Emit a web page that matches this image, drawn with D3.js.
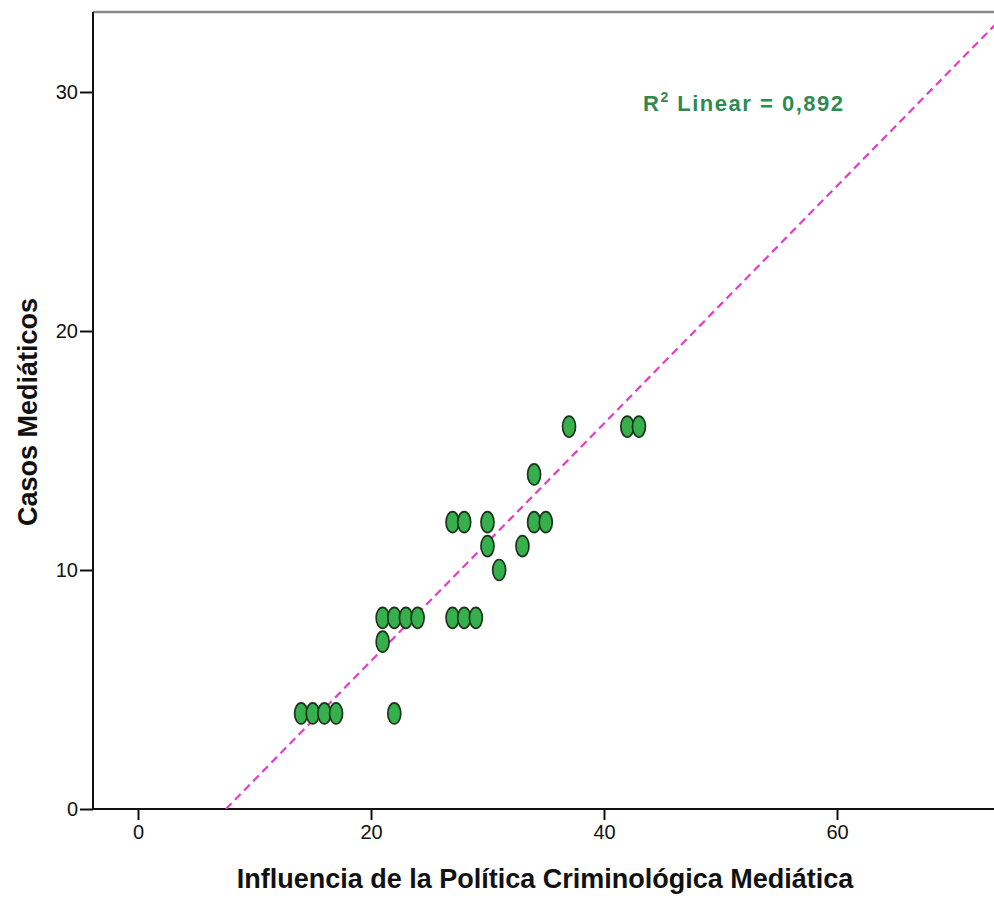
<!DOCTYPE html>
<html>
<head>
<meta charset="utf-8">
<script src="https://cdn.jsdelivr.net/npm/d3@7"></script>
<style>
  body { margin: 0; background: #fff; }
  text { font-family: "Liberation Sans", Arial, sans-serif; }
</style>
</head>
<body>
<div id="chart"></div>
<script>
// data
const xValues = [14, 15, 16, 17, 22, 21, 21, 22, 23, 24, 27, 28, 29, 31, 30, 33, 27, 28, 30, 34, 35, 34, 37, 42, 43];
const yValues = [4, 4, 4, 4, 4, 7, 8, 8, 8, 8, 8, 8, 8, 10, 11, 11, 12, 12, 12, 12, 12, 14, 16, 16, 16];
const xTicks = [0, 20, 40, 60];
const yTicks = [0, 10, 20, 30];
const fitIntercept = -3.75, fitSlope = 0.497;
const r2Label = "0,892";
const xTitle = "Influencia de la Política Criminológica Mediática";
const yTitle = "Casos Mediáticos";

const width = 994, height = 898;
const plotLeft = 93, plotTop = 12, plotBottom = 809;

const svg = d3.select("#chart").append("svg")
  .attr("width", width)
  .attr("height", height);

// x: 0 -> 138px, 20 -> 371px
const x = d3.scaleLinear().domain([0, 20]).range([138, 371]);
const xMax = x.invert(1010);
const y = d3.scaleLinear().domain([0, 10]).range([plotBottom, 570]);

svg.append("defs").append("clipPath").attr("id", "plot-clip")
  .append("rect")
  .attr("x", plotLeft).attr("y", plotTop)
  .attr("width", 1010 - plotLeft).attr("height", plotBottom - plotTop);

// top frame line
svg.append("line")
  .attr("x1", plotLeft).attr("x2", width)
  .attr("y1", plotTop).attr("y2", plotTop)
  .attr("stroke", "#8a8a8a")
  .attr("stroke-width", 2.5);

// axes
const xAxis = svg.append("g")
  .attr("transform", "translate(0," + plotBottom + ")")
  .call(d3.axisBottom(x).tickValues(xTicks).tickSize(11).tickPadding(5).tickFormat(d3.format("d")));
xAxis.select(".domain").remove();
xAxis.append("line")
  .attr("x1", plotLeft).attr("x2", width)
  .attr("stroke", "#111").attr("stroke-width", 2);

const yAxis = svg.append("g")
  .attr("transform", "translate(" + plotLeft + ",0)")
  .call(d3.axisLeft(y).tickValues(yTicks).tickSize(13).tickPadding(2).tickFormat(d3.format("d")));
yAxis.select(".domain").remove();
yAxis.append("line")
  .attr("y1", plotTop).attr("y2", plotBottom)
  .attr("stroke", "#111").attr("stroke-width", 2);

svg.selectAll(".tick line").attr("stroke", "#111").attr("stroke-width", 2);
svg.selectAll(".tick text")
  .attr("fill", "#111")
  .style("font-size", "20px")
  .style("font-family", "'Liberation Sans', Arial, sans-serif");

// fit line
const plot = svg.append("g").attr("clip-path", "url(#plot-clip)");
const x0 = (0 - fitIntercept) / fitSlope;
plot.append("line")
  .attr("x1", x(x0)).attr("y1", y(0))
  .attr("x2", x(xMax)).attr("y2", y(fitIntercept + fitSlope * xMax))
  .attr("stroke", "#e53cc6")
  .attr("stroke-width", 2.2)
  .attr("stroke-dasharray", "8,5");

// points
plot.selectAll("ellipse")
  .data(xValues.map((d, i) => [d, yValues[i]]))
  .enter().append("ellipse")
  .attr("cx", d => x(d[0]))
  .attr("cy", d => y(d[1]))
  .attr("rx", 6.5)
  .attr("ry", 10.5)
  .attr("fill", "#35b04c")
  .attr("stroke", "#1c331c")
  .attr("stroke-width", 1.7);

// R2 label
const r2 = svg.append("text")
  .attr("x", 643).attr("y", 111)
  .attr("fill", "#2f8a52")
  .style("font-size", "22px")
  .style("font-weight", "bold")
  .style("letter-spacing", "1.5px");
r2.append("tspan").text("R");
r2.append("tspan").attr("dy", -9).style("font-size", "14px").text("2");
r2.append("tspan").attr("dy", 9).text(" Linear = " + r2Label);

// axis titles
svg.append("text")
  .attr("x", 545).attr("y", 888)
  .attr("text-anchor", "middle")
  .attr("fill", "#111")
  .style("font-size", "27px")
  .style("font-weight", "bold")
  .text(xTitle);

svg.append("text")
  .attr("transform", "translate(37,412) rotate(-90)")
  .attr("text-anchor", "middle")
  .attr("fill", "#111")
  .style("font-size", "27px")
  .style("font-weight", "bold")
  .text(yTitle);
</script>
</body>
</html>
